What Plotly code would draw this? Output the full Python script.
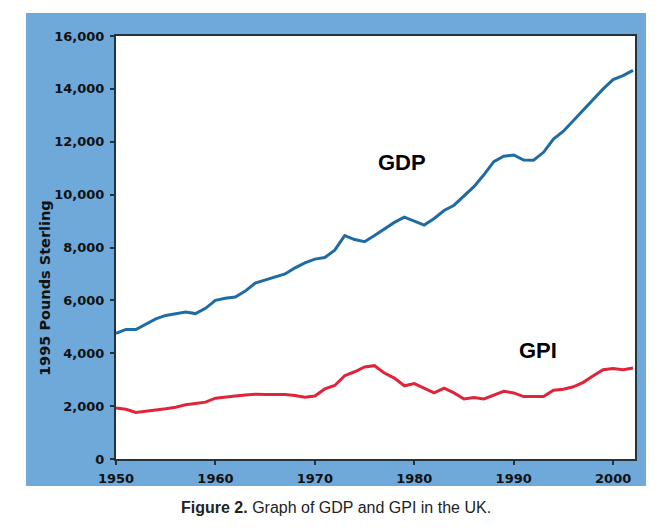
import plotly.graph_objects as go

years = list(range(1950, 2003))
gdp = [4750, 4900, 4900, 5100, 5300, 5430, 5500, 5560, 5500, 5700,
       6000, 6080, 6130, 6350, 6650, 6770, 6870, 7000, 7230, 7420,
       7560, 7620, 7900, 8450, 8300, 8220, 8450, 8700, 8950, 9150,
       9000, 8850, 9100, 9400, 9600, 9950, 10300, 10750, 11250, 11450,
       11500, 11310, 11300, 11600, 12100, 12400, 12800, 13200, 13600, 14000,
       14350, 14500, 14700]
gpi = [1930, 1880, 1760, 1800, 1850, 1900, 1960, 2050, 2100, 2150,
       2300, 2350, 2380, 2420, 2450, 2440, 2430, 2440, 2400, 2340,
       2380, 2650, 2780, 3150, 3300, 3480, 3530, 3250, 3060, 2770,
       2850, 2680, 2500, 2680, 2500, 2270, 2330, 2270, 2420, 2560,
       2500, 2360, 2360, 2360, 2600, 2640, 2730, 2900, 3150, 3380,
       3420, 3380, 3440]
x_ticks = [1950, 1960, 1970, 1980, 1990, 2000]
y_ticks = [0, 2000, 4000, 6000, 8000, 10000, 12000, 14000, 16000]

FRAME = "#6EA9DA"
AXIS = "#24323c"
tickfont = dict(family="DejaVu Sans", size=13, color="#111111", weight="bold")

fig = go.Figure()
fig.add_trace(go.Scatter(x=years, y=gdp, mode="lines", name="GDP",
                         line=dict(color="#1F6CA5", width=3), showlegend=False))
fig.add_trace(go.Scatter(x=years, y=gpi, mode="lines", name="GPI",
                         line=dict(color="#E0243A", width=3), showlegend=False))

OFF = 8  # page body margin
W, H = 670, 528
L, T = 116 - OFF, 36 - OFF
R = W - (635 - OFF)
B = H - (459 - OFF)
pw, ph = W - L - R, H - T - B

def px(xp):
    return (xp - OFF - L) / pw

def py(yp):
    return (H - B - (yp - OFF)) / ph

fig.add_shape(type="rect", xref="paper", yref="paper",
              x0=px(26), x1=px(646), y0=py(486), y1=py(13),
              fillcolor=FRAME, line=dict(width=0), layer="below")
fig.add_shape(type="rect", xref="paper", yref="paper",
              x0=0, x1=1, y0=0, y1=1,
              fillcolor="white", line=dict(width=0), layer="below")

fig.update_xaxes(range=[1950, 2002.2], tickvals=x_ticks, ticks="outside",
                 ticklen=4, tickwidth=2, tickcolor=AXIS,
                 showline=True, linecolor=AXIS, linewidth=2, mirror=True,
                 showgrid=False, zeroline=False, tickfont=tickfont,
                 ticklabelstandoff=2)
fig.update_yaxes(range=[0, 16000], tickvals=y_ticks, tickformat=",d",
                 ticks="outside", ticklen=4, tickwidth=2, tickcolor=AXIS,
                 showline=True, linecolor=AXIS, linewidth=2, mirror=True,
                 showgrid=False, zeroline=False, tickfont=tickfont,
                 ticklabelstandoff=3)

fig.add_annotation(x=1978.8, y=11200, text="GDP", showarrow=False,
                   xanchor="center", yanchor="middle",
                   font=dict(family="Liberation Sans", size=22, color="black", weight="bold"))
fig.add_annotation(x=1992.45, y=4120, text="GPI", showarrow=False,
                   xanchor="center", yanchor="middle",
                   font=dict(family="Liberation Sans", size=22, color="black", weight="bold"))
fig.add_annotation(xref="paper", yref="paper", x=px(45), y=py(288),
                   xanchor="center", yanchor="middle",
                   text="1995 Pounds Sterling", textangle=-90, showarrow=False,
                   font=dict(family="DejaVu Sans", size=14.5, color="#111111", weight="bold"))
fig.add_annotation(xref="paper", yref="paper", x=px(335.5), y=py(507),
                   xanchor="center", yanchor="middle",
                   text="<b>Figure 2.</b> Graph of GDP and GPI in the UK.",
                   showarrow=False,
                   font=dict(family="Liberation Sans", size=16, color="#222222"))

fig.update_layout(width=W, height=H, margin=dict(l=L, r=R, t=T, b=B),
                  paper_bgcolor="white", plot_bgcolor="white")

fig.write_html("out.html")
